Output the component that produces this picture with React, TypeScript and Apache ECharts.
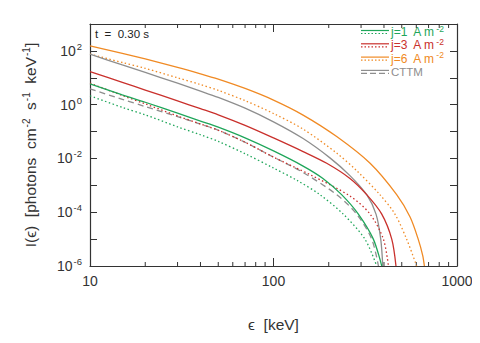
import React, { useEffect, useRef } from "react";
import * as echarts from "echarts";

// ---- data ----
const E_j1_solid = [10, 15, 20, 30, 40, 50, 70, 100, 145, 186, 235, 290, 350, 389];
const I_j1_solid = [5.9, 2.3, 1.23, 0.48, 0.245, 0.145, 0.058, 0.019, 0.0052, 0.0018, 4.5e-4, 8.5e-5, 1.0e-5, 1e-6];

const E_j1_dot = [10, 15, 20, 30, 40, 50, 70, 100, 135, 179, 240, 315, 365];
const I_j1_dot = [2.14, 0.79, 0.42, 0.15, 0.076, 0.043, 0.015, 0.0044, 0.0015, 4.5e-4, 8.5e-5, 1.0e-5, 1e-6];

const E_j3_solid = [10, 15, 20, 30, 40, 50, 70, 100, 145, 195, 261, 322, 389, 441, 465];
const I_j3_solid = [17, 6.8, 3.5, 1.38, 0.71, 0.42, 0.17, 0.058, 0.018, 0.0066, 0.0018, 4.5e-4, 8.5e-5, 1.0e-5, 1e-6];

const E_j3_dot = [10, 15, 20, 30, 40, 50, 70, 100, 158, 261, 336, 397, 423];
const I_j3_dot = [6.3, 2.2, 1.07, 0.38, 0.19, 0.112, 0.04, 0.0112, 0.0025, 4.0e-4, 8.5e-5, 1.0e-5, 1e-6];

const E_j6_solid = [10, 15, 20, 30, 40, 50, 70, 100, 145, 221, 336, 469, 555, 615, 650, 664];
const I_j6_solid = [155, 81, 50, 24.5, 14.1, 8.9, 4.0, 1.48, 0.41, 0.065, 0.0066, 4.5e-4, 6.6e-5, 9.8e-6, 2.5e-6, 1e-6];

const E_j6_dot = [10, 15, 20, 30, 40, 50, 70, 100, 145, 221, 284, 380, 459, 532, 603];
const I_j6_dot = [76, 37, 22.4, 10, 5.6, 3.4, 1.41, 0.47, 0.123, 0.0158, 0.0035, 4.5e-4, 8.5e-5, 9.8e-6, 1e-6];

const E_cttm_solid = [10, 15, 20, 30, 40, 50, 70, 100, 145, 203, 261, 322, 362, 384, 394];
const I_cttm_solid = [76, 30, 15.8, 6.3, 3.2, 1.86, 0.74, 0.23, 0.055, 0.0105, 0.0023, 4.5e-4, 8.5e-5, 1.0e-5, 1e-6];

const E_cttm_dash = [10, 15, 20, 30, 40, 50, 70, 100, 145, 221, 284, 343, 373];
const I_cttm_dash = [3.85, 1.58, 0.85, 0.36, 0.19, 0.112, 0.04, 0.0112, 0.003, 4.5e-4, 8.5e-5, 1.0e-5, 1e-6];

const xMinorTicks = [20, 30, 40, 50, 60, 70, 80, 90, 200, 300, 400, 500, 600, 700, 800, 900];
const legendLabels = ["j=1", "j=3", "j=6", "CTTM"];
const titleText = "t  =  0.30 s";

const GREEN = "#1fa65a";
const RED = "#c9302c";
const ORANGE = "#f08a24";
const GRAY = "#8e8e8e";
const AXIS = "#333333";
const FONT = "Liberation Sans";

const zip = (xs: number[], ys: number[]) => xs.map((x, i) => [x, ys[i]]);

const lineSeries = (name: string, xs: number[], ys: number[], color: string, type: any) => ({
  name,
  type: "line",
  data: zip(xs, ys),
  showSymbol: false,
  symbol: "none",
  smooth: 0.3,
  clip: true,
  lineStyle: { color, width: 1.3, type },
  z: 3,
});

export default function App() {
  const ref = useRef<HTMLDivElement>(null);
  useEffect(() => {
    if (!ref.current) return;
    const chart = echarts.init(ref.current, undefined, { renderer: "svg" });
    const supRich = {
      b: { fontSize: 14, fontFamily: FONT, color: AXIS },
      s: { fontSize: 9.5, fontFamily: FONT, color: AXIS, padding: [0, 0, 9, 1] },
    };
    const legendRow = (i: number, color: string, label: string, dashed: boolean) => {
      const y = 32 + i * 13.3;
      const x0 = 361;
      const x1 = 389;
      const children: any[] = [
        { type: "line", shape: { x1: x0, y1: y - 1.5, x2: x1, y2: y - 1.5 }, style: { stroke: color, lineWidth: 1.2 } },
        {
          type: "line",
          shape: { x1: x0, y1: y + 1.5, x2: x1, y2: y + 1.5 },
          style: { stroke: color, lineWidth: 1.2, lineDash: dashed ? [6, 3] : [1.5, 2] },
        },
      ];
      if (label === "CTTM") {
        children.push({
          type: "text",
          style: { x: 391, y, text: label, fill: color, font: `11.5px ${FONT}`, verticalAlign: "middle" },
        });
      } else {
        children.push({
          type: "text",
          style: {
            x: 391,
            y,
            text: `{a|${label}  A m}{s|-2}`,
            verticalAlign: "middle",
            rich: {
              a: { fontSize: 12, fontFamily: FONT, fill: color, color },
              s: { fontSize: 8.5, fontFamily: FONT, fill: color, color, padding: [0, 0, 7, 1] },
            },
          },
        });
      }
      return { type: "group", children };
    };

    const option: any = {
      animation: false,
      backgroundColor: "#ffffff",
      grid: { left: 90, right: 23, top: 24, bottom: 77 },
      xAxis: [
        {
          type: "log",
          logBase: 10,
          min: 10,
          max: 1000,
          interval: 1,
          position: "bottom",
          name: "ϵ  [keV]",
          nameLocation: "middle",
          nameGap: 58,
          nameTextStyle: { fontSize: 15.5, fontFamily: FONT, color: AXIS, verticalAlign: "middle" },
          axisLine: { show: true, lineStyle: { color: AXIS, width: 1.2 } },
          axisTick: { show: true, inside: true, length: 8, lineStyle: { color: AXIS } },
          axisLabel: { fontSize: 14, fontFamily: FONT, color: AXIS, margin: 8, formatter: (v: number) => String(Math.round(v)) },
          splitLine: { show: false },
        },
        {
          type: "log",
          logBase: 10,
          min: 10,
          max: 1000,
          interval: 1,
          position: "top",
          axisLine: { show: true, lineStyle: { color: AXIS, width: 1.2 } },
          axisTick: { show: true, inside: true, length: 8, lineStyle: { color: AXIS } },
          axisLabel: { show: false },
          splitLine: { show: false },
        },
      ],
      yAxis: [
        {
          type: "log",
          logBase: 10,
          min: 1e-6,
          max: 1e3,
          interval: 1,
          position: "left",
          name: "{n|I(ϵ)  [photons  cm}{s|-2}{n|  s}{s|-1}{n|  keV}{s|-1}{n|]}",
          nameLocation: "middle",
          nameRotate: 90,
          nameGap: 50,
          nameTextStyle: {
            rich: {
              n: { fontSize: 15.5, fontFamily: FONT, color: AXIS },
              s: { fontSize: 10, fontFamily: FONT, color: AXIS, padding: [0, 0, 9, 1] },
            },
          },
          axisLine: { show: true, lineStyle: { color: AXIS, width: 1.2 } },
          axisTick: { show: true, inside: true, length: 7, lineStyle: { color: AXIS } },
          axisLabel: {
            margin: 8,
            formatter: (v: number) => {
              const e = Math.round(Math.log10(v));
              if (e % 2 !== 0) return "";
              return `{b|10}{s|${e < 0 ? "-" + -e : e}}`;
            },
            rich: supRich,
          },
          splitLine: { show: false },
        },
        {
          type: "log",
          logBase: 10,
          min: 1e-6,
          max: 1e3,
          interval: 1,
          position: "right",
          axisLine: { show: true, lineStyle: { color: AXIS, width: 1.2 } },
          axisTick: { show: true, inside: true, length: 7, lineStyle: { color: AXIS } },
          axisLabel: { show: false },
          splitLine: { show: false },
        },
      ],
      series: [
        lineSeries("j6 solid", E_j6_solid, I_j6_solid, ORANGE, "solid"),
        lineSeries("j6 dotted", E_j6_dot, I_j6_dot, ORANGE, [1.5, 2.5]),
        lineSeries("CTTM solid", E_cttm_solid, I_cttm_solid, GRAY, "solid"),
        lineSeries("j3 solid", E_j3_solid, I_j3_solid, RED, "solid"),
        lineSeries("CTTM dashed", E_cttm_dash, I_cttm_dash, GRAY, [6, 4]),
        lineSeries("j3 dotted", E_j3_dot, I_j3_dot, RED, [1.5, 2.5]),
        lineSeries("j1 solid", E_j1_solid, I_j1_solid, GREEN, "solid"),
        lineSeries("j1 dotted", E_j1_dot, I_j1_dot, GREEN, [1.5, 2.5]),
        {
          name: "minor ticks",
          type: "custom",
          coordinateSystem: "cartesian2d",
          xAxisIndex: 0,
          yAxisIndex: 0,
          silent: true,
          data: xMinorTicks.map((v) => [v, 1]),
          renderItem: (_p: any, api: any) => {
            const e = api.value(0);
            const b = api.coord([e, 1e-6]);
            const t = api.coord([e, 1e3]);
            return {
              type: "group",
              children: [
                { type: "line", shape: { x1: b[0], y1: b[1], x2: b[0], y2: b[1] - 4 }, style: { stroke: AXIS, lineWidth: 1 } },
                { type: "line", shape: { x1: t[0], y1: t[1], x2: t[0], y2: t[1] + 4 }, style: { stroke: AXIS, lineWidth: 1 } },
              ],
            };
          },
          z: 2,
        },
      ],
      graphic: [
        {
          type: "text",
          style: { x: 95, y: 34, text: titleText, fill: "#222", font: `11.5px ${FONT}`, verticalAlign: "middle" },
        },
        legendRow(0, GREEN, legendLabels[0], false),
        legendRow(1, RED, legendLabels[1], false),
        legendRow(2, ORANGE, legendLabels[2], false),
        legendRow(3, GRAY, legendLabels[3], true),
      ],
    };
    chart.setOption(option);
    return () => chart.dispose();
  }, []);
  return <div ref={ref} style={{ width: 480, height: 343, margin: -8 }} />;
}
